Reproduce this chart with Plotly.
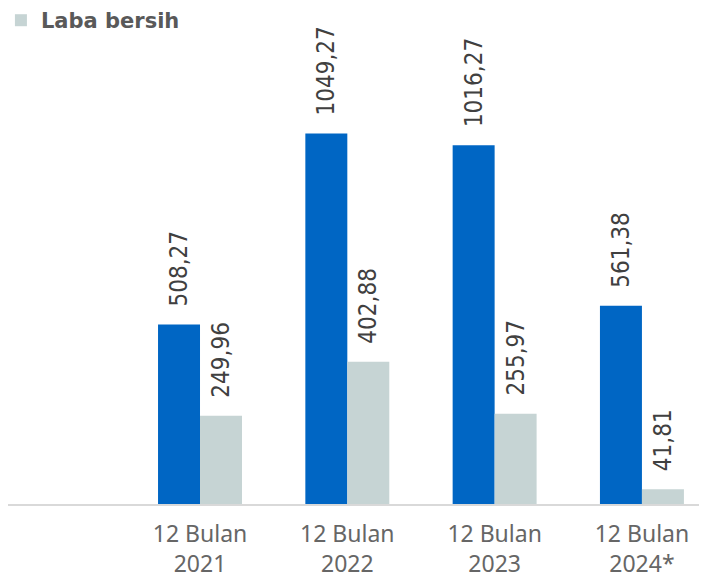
import plotly.graph_objects as go

years = ["2021", "2022", "2023", "2024*"]
tick_labels = ["12 Bulan<br>" + y for y in years]
x_pos = [1, 2, 3, 4]
pendapatan = [508.27, 1049.27, 1016.27, 561.38]
laba_bersih = [249.96, 402.88, 255.97, 41.81]

label_font = dict(family="Liberation Sans Narrow, Arial Narrow, DejaVu Sans Condensed, sans-serif", size=24, color="#404040")
gap = "\u2002\u2009"

fig = go.Figure()
fig.add_trace(go.Bar(
    x=x_pos, y=pendapatan, name="Pendapatan", showlegend=False,
    marker=dict(color="#0066C4", line=dict(width=0)),
    texttemplate=gap + "%{y:.2f}", textposition="outside", textangle=-90,
    textfont=label_font, cliponaxis=False, constraintext="none",
))
fig.add_trace(go.Bar(
    x=x_pos, y=laba_bersih, name="Laba bersih",
    marker=dict(color="#C6D4D4", line=dict(width=0)),
    texttemplate=gap + "%{y:.2f}", textposition="outside", textangle=-90,
    textfont=label_font, cliponaxis=False, constraintext="none",
))

fig.update_layout(
    width=707, height=579,
    margin=dict(l=0, r=0, t=0, b=83, autoexpand=False),
    barmode="group", bargap=0.43, bargroupgap=0,
    separators=", ",
    plot_bgcolor="white", paper_bgcolor="white",
    showlegend=True,
    legend=dict(x=-0.01, y=1.016, xanchor="left", yanchor="top",
                font=dict(family="DejaVu Sans", size=21, color="#595959", weight="bold"),
                itemsizing="constant", bgcolor="rgba(0,0,0,0)"),
    uniformtext=dict(mode=False),
)
fig.update_xaxes(
    range=[-0.3035, 4.496], tickmode="array", tickvals=x_pos, ticktext=tick_labels,
    showgrid=False, zeroline=False, showline=True, linecolor="#D9D9D9", linewidth=1.5,
    ticks="", ticklabelstandoff=9, automargin=False,
    tickfont=dict(family="Noto Sans", size=23, color="#666666"),
)
fig.update_yaxes(range=[0, 1405], visible=False, showgrid=False, zeroline=False, automargin=False)

fig.write_html("out.html")
